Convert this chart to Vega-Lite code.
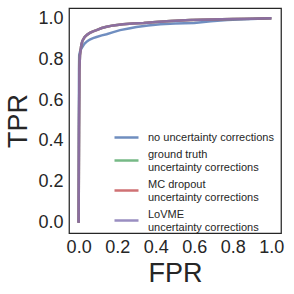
{
  "$schema": "https://vega.github.io/schema/vega-lite/v6.json",
  "width": 212,
  "height": 225,
  "autosize": {"type": "none"},
  "padding": {"left": 69, "top": 8, "right": 13, "bottom": 61},
  "background": "white",
  "config": {
    "view": {"stroke": "#262626", "strokeWidth": 1.25},
    "font": "Liberation Sans",
    "axis": {"grid": false, "ticks": false, "domain": false, "labelColor": "#262626", "titleColor": "#262626", "labelFont": "Liberation Sans", "titleFont": "Liberation Sans", "labelFontSize": 18, "titleFontSize": 27, "titleFontWeight": "normal"}
  },
  "datasets": {
    "roc": [
      {"method": "no uncertainty corrections", "fpr": 0.0, "tpr": 0.0},
      {"method": "no uncertainty corrections", "fpr": 0.001, "tpr": 0.45},
      {"method": "no uncertainty corrections", "fpr": 0.002, "tpr": 0.75},
      {"method": "no uncertainty corrections", "fpr": 0.003, "tpr": 0.82},
      {"method": "no uncertainty corrections", "fpr": 0.008, "tpr": 0.84},
      {"method": "no uncertainty corrections", "fpr": 0.014, "tpr": 0.851},
      {"method": "no uncertainty corrections", "fpr": 0.023, "tpr": 0.865},
      {"method": "no uncertainty corrections", "fpr": 0.031, "tpr": 0.876},
      {"method": "no uncertainty corrections", "fpr": 0.045, "tpr": 0.888},
      {"method": "no uncertainty corrections", "fpr": 0.058, "tpr": 0.896},
      {"method": "no uncertainty corrections", "fpr": 0.075, "tpr": 0.903},
      {"method": "no uncertainty corrections", "fpr": 0.093, "tpr": 0.908},
      {"method": "no uncertainty corrections", "fpr": 0.12, "tpr": 0.916},
      {"method": "no uncertainty corrections", "fpr": 0.145, "tpr": 0.922},
      {"method": "no uncertainty corrections", "fpr": 0.18, "tpr": 0.932},
      {"method": "no uncertainty corrections", "fpr": 0.215, "tpr": 0.942},
      {"method": "no uncertainty corrections", "fpr": 0.26, "tpr": 0.95},
      {"method": "no uncertainty corrections", "fpr": 0.3, "tpr": 0.957},
      {"method": "no uncertainty corrections", "fpr": 0.36, "tpr": 0.964},
      {"method": "no uncertainty corrections", "fpr": 0.424, "tpr": 0.97},
      {"method": "no uncertainty corrections", "fpr": 0.5, "tpr": 0.974},
      {"method": "no uncertainty corrections", "fpr": 0.6, "tpr": 0.977},
      {"method": "no uncertainty corrections", "fpr": 0.686, "tpr": 0.985},
      {"method": "no uncertainty corrections", "fpr": 0.77, "tpr": 0.991},
      {"method": "no uncertainty corrections", "fpr": 0.86, "tpr": 0.995},
      {"method": "no uncertainty corrections", "fpr": 0.93, "tpr": 0.998},
      {"method": "no uncertainty corrections", "fpr": 1.0, "tpr": 1.0},

      {"method": "ground truth|\u00a0uncertainty corrections", "fpr": 0.0, "tpr": 0.0},
      {"method": "ground truth|\u00a0uncertainty corrections", "fpr": 0.002, "tpr": 0.45},
      {"method": "ground truth|\u00a0uncertainty corrections", "fpr": 0.004, "tpr": 0.75},
      {"method": "ground truth|\u00a0uncertainty corrections", "fpr": 0.007, "tpr": 0.82},
      {"method": "ground truth|\u00a0uncertainty corrections", "fpr": 0.014, "tpr": 0.87},
      {"method": "ground truth|\u00a0uncertainty corrections", "fpr": 0.02, "tpr": 0.89},
      {"method": "ground truth|\u00a0uncertainty corrections", "fpr": 0.031, "tpr": 0.908},
      {"method": "ground truth|\u00a0uncertainty corrections", "fpr": 0.045, "tpr": 0.92},
      {"method": "ground truth|\u00a0uncertainty corrections", "fpr": 0.058, "tpr": 0.928},
      {"method": "ground truth|\u00a0uncertainty corrections", "fpr": 0.075, "tpr": 0.936},
      {"method": "ground truth|\u00a0uncertainty corrections", "fpr": 0.093, "tpr": 0.942},
      {"method": "ground truth|\u00a0uncertainty corrections", "fpr": 0.12, "tpr": 0.952},
      {"method": "ground truth|\u00a0uncertainty corrections", "fpr": 0.145, "tpr": 0.958},
      {"method": "ground truth|\u00a0uncertainty corrections", "fpr": 0.18, "tpr": 0.965},
      {"method": "ground truth|\u00a0uncertainty corrections", "fpr": 0.23, "tpr": 0.97},
      {"method": "ground truth|\u00a0uncertainty corrections", "fpr": 0.28, "tpr": 0.974},
      {"method": "ground truth|\u00a0uncertainty corrections", "fpr": 0.337, "tpr": 0.977},
      {"method": "ground truth|\u00a0uncertainty corrections", "fpr": 0.4, "tpr": 0.982},
      {"method": "ground truth|\u00a0uncertainty corrections", "fpr": 0.476, "tpr": 0.987},
      {"method": "ground truth|\u00a0uncertainty corrections", "fpr": 0.58, "tpr": 0.991},
      {"method": "ground truth|\u00a0uncertainty corrections", "fpr": 0.686, "tpr": 0.994},
      {"method": "ground truth|\u00a0uncertainty corrections", "fpr": 0.8, "tpr": 0.996},
      {"method": "ground truth|\u00a0uncertainty corrections", "fpr": 0.9, "tpr": 0.998},
      {"method": "ground truth|\u00a0uncertainty corrections", "fpr": 1.0, "tpr": 1.0},

      {"method": "MC dropout|\u00a0uncertainty corrections", "fpr": 0.0, "tpr": 0.0},
      {"method": "MC dropout|\u00a0uncertainty corrections", "fpr": 0.002, "tpr": 0.45},
      {"method": "MC dropout|\u00a0uncertainty corrections", "fpr": 0.004, "tpr": 0.75},
      {"method": "MC dropout|\u00a0uncertainty corrections", "fpr": 0.007, "tpr": 0.82},
      {"method": "MC dropout|\u00a0uncertainty corrections", "fpr": 0.014, "tpr": 0.87},
      {"method": "MC dropout|\u00a0uncertainty corrections", "fpr": 0.02, "tpr": 0.89},
      {"method": "MC dropout|\u00a0uncertainty corrections", "fpr": 0.031, "tpr": 0.908},
      {"method": "MC dropout|\u00a0uncertainty corrections", "fpr": 0.045, "tpr": 0.92},
      {"method": "MC dropout|\u00a0uncertainty corrections", "fpr": 0.058, "tpr": 0.928},
      {"method": "MC dropout|\u00a0uncertainty corrections", "fpr": 0.075, "tpr": 0.936},
      {"method": "MC dropout|\u00a0uncertainty corrections", "fpr": 0.093, "tpr": 0.942},
      {"method": "MC dropout|\u00a0uncertainty corrections", "fpr": 0.12, "tpr": 0.952},
      {"method": "MC dropout|\u00a0uncertainty corrections", "fpr": 0.145, "tpr": 0.958},
      {"method": "MC dropout|\u00a0uncertainty corrections", "fpr": 0.18, "tpr": 0.965},
      {"method": "MC dropout|\u00a0uncertainty corrections", "fpr": 0.23, "tpr": 0.97},
      {"method": "MC dropout|\u00a0uncertainty corrections", "fpr": 0.28, "tpr": 0.974},
      {"method": "MC dropout|\u00a0uncertainty corrections", "fpr": 0.337, "tpr": 0.977},
      {"method": "MC dropout|\u00a0uncertainty corrections", "fpr": 0.4, "tpr": 0.982},
      {"method": "MC dropout|\u00a0uncertainty corrections", "fpr": 0.476, "tpr": 0.987},
      {"method": "MC dropout|\u00a0uncertainty corrections", "fpr": 0.58, "tpr": 0.991},
      {"method": "MC dropout|\u00a0uncertainty corrections", "fpr": 0.686, "tpr": 0.994},
      {"method": "MC dropout|\u00a0uncertainty corrections", "fpr": 0.8, "tpr": 0.996},
      {"method": "MC dropout|\u00a0uncertainty corrections", "fpr": 0.9, "tpr": 0.998},
      {"method": "MC dropout|\u00a0uncertainty corrections", "fpr": 1.0, "tpr": 1.0},

      {"method": "LoVME|\u00a0uncertainty corrections", "fpr": 0.0, "tpr": 0.0},
      {"method": "LoVME|\u00a0uncertainty corrections", "fpr": 0.002, "tpr": 0.45},
      {"method": "LoVME|\u00a0uncertainty corrections", "fpr": 0.004, "tpr": 0.75},
      {"method": "LoVME|\u00a0uncertainty corrections", "fpr": 0.007, "tpr": 0.82},
      {"method": "LoVME|\u00a0uncertainty corrections", "fpr": 0.014, "tpr": 0.87},
      {"method": "LoVME|\u00a0uncertainty corrections", "fpr": 0.02, "tpr": 0.89},
      {"method": "LoVME|\u00a0uncertainty corrections", "fpr": 0.031, "tpr": 0.908},
      {"method": "LoVME|\u00a0uncertainty corrections", "fpr": 0.045, "tpr": 0.92},
      {"method": "LoVME|\u00a0uncertainty corrections", "fpr": 0.058, "tpr": 0.928},
      {"method": "LoVME|\u00a0uncertainty corrections", "fpr": 0.075, "tpr": 0.936},
      {"method": "LoVME|\u00a0uncertainty corrections", "fpr": 0.093, "tpr": 0.942},
      {"method": "LoVME|\u00a0uncertainty corrections", "fpr": 0.12, "tpr": 0.952},
      {"method": "LoVME|\u00a0uncertainty corrections", "fpr": 0.145, "tpr": 0.958},
      {"method": "LoVME|\u00a0uncertainty corrections", "fpr": 0.18, "tpr": 0.965},
      {"method": "LoVME|\u00a0uncertainty corrections", "fpr": 0.23, "tpr": 0.97},
      {"method": "LoVME|\u00a0uncertainty corrections", "fpr": 0.28, "tpr": 0.974},
      {"method": "LoVME|\u00a0uncertainty corrections", "fpr": 0.337, "tpr": 0.977},
      {"method": "LoVME|\u00a0uncertainty corrections", "fpr": 0.4, "tpr": 0.982},
      {"method": "LoVME|\u00a0uncertainty corrections", "fpr": 0.476, "tpr": 0.987},
      {"method": "LoVME|\u00a0uncertainty corrections", "fpr": 0.58, "tpr": 0.991},
      {"method": "LoVME|\u00a0uncertainty corrections", "fpr": 0.686, "tpr": 0.994},
      {"method": "LoVME|\u00a0uncertainty corrections", "fpr": 0.8, "tpr": 0.996},
      {"method": "LoVME|\u00a0uncertainty corrections", "fpr": 0.9, "tpr": 0.998},
      {"method": "LoVME|\u00a0uncertainty corrections", "fpr": 1.0, "tpr": 1.0}
    ]
  },
  "data": {"name": "roc"},
  "mark": {"type": "line", "strokeWidth": 2.5, "opacity": 0.8, "clip": true},
  "encoding": {
    "x": {
      "field": "fpr", "type": "quantitative", "title": "FPR",
      "scale": {"domain": [-0.05, 1.05], "nice": false, "zero": false},
      "axis": {"values": [0, 0.2, 0.4, 0.6, 0.8, 1.0], "format": ".1f", "labelPadding": 5, "titlePadding": 4, "labelFlush": false}
    },
    "y": {
      "field": "tpr", "type": "quantitative", "title": "TPR",
      "scale": {"domain": [-0.05, 1.05], "nice": false, "zero": false},
      "axis": {"values": [0, 0.2, 0.4, 0.6, 0.8, 1.0], "format": ".1f", "labelPadding": 6, "titlePadding": 5, "labelFlush": false}
    },
    "color": {
      "field": "method", "type": "nominal",
      "scale": {
        "domain": ["no uncertainty corrections", "ground truth|\u00a0uncertainty corrections", "MC dropout|\u00a0uncertainty corrections", "LoVME|\u00a0uncertainty corrections"],
        "range": ["#4C72B0", "#55A868", "#C44E52", "#8172B2"]
      },
      "legend": {
        "title": null,
        "orient": "none",
        "legendX": 44,
        "legendY": 116,
        "padding": 0,
        "symbolType": "stroke",
        "symbolSize": 576,
        "symbolStrokeWidth": 2.5,
        "symbolOpacity": 0.8,
        "labelFont": "Liberation Sans",
        "labelFontSize": 11,
        "labelLineHeight": 12,
        "labelBaseline": "middle",
        "labelColor": "#262626",
        "labelOffset": 8,
        "labelLimit": 300,
        "rowPadding": 4,
        "labelExpr": "split(datum.label, '|')",
        "encode": {
          "labels": {"update": {"dy": {"signal": "indexof(datum.label, '|') >= 0 ? -6 : 0"}}}
        }
      }
    }
  }
}
